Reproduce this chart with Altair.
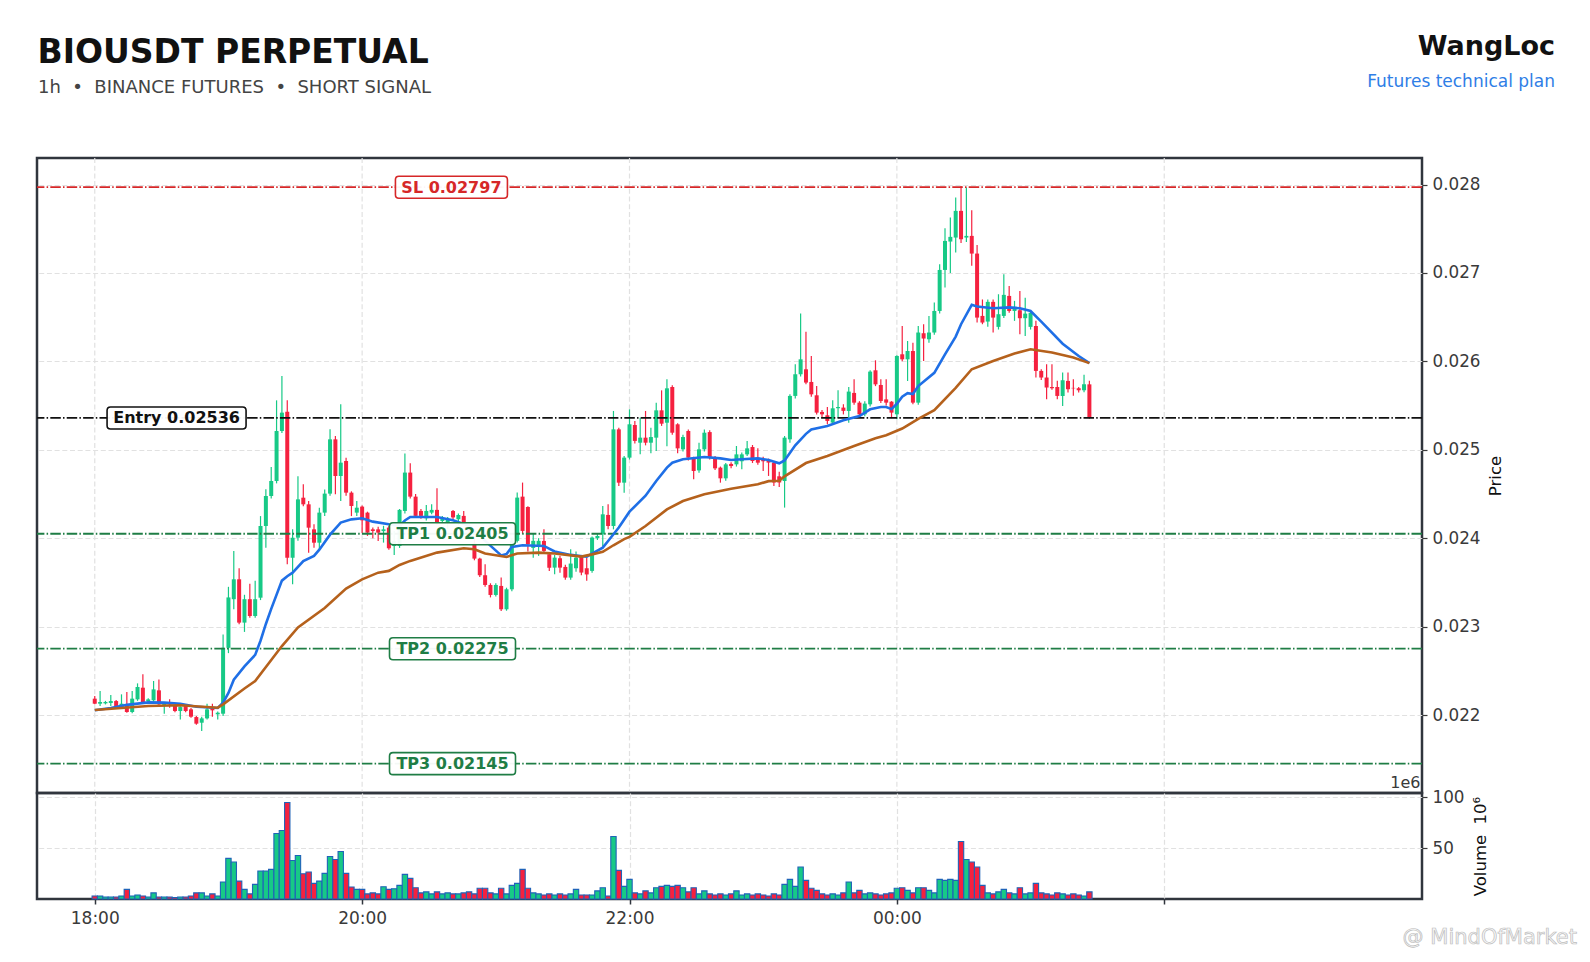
import altair as alt
import pandas as pd

# ---------------- data (prices in 1e-5 USDT: 2218.5 -> 0.022185) ----------------
OPEN = [
    2218.5, 2212.8, 2213.2, 2213.6, 2215.8, 2209.8, 2211, 2203.4, 2217.7, 2230.9,
    2215.8, 2216.6, 2227.9, 2211.3, 2214, 2210.2, 2204.5, 2210.2, 2206.4, 2197.7,
    2191.3, 2196.2, 2208.3, 2200.8, 2201.5, 2276, 2331, 2353.5, 2304.5, 2331,
    2312, 2332.7, 2413.8, 2447.7, 2464.7, 2521.2, 2543, 2378, 2400.6, 2445.8,
    2438.3, 2410, 2394.9, 2428.9, 2450.4, 2511.8, 2470.3, 2487.3, 2451.5, 2428.9,
    2435.7, 2428.9, 2410, 2410, 2408, 2412, 2391.2, 2391.2, 2430.8, 2474.2,
    2447, 2430.8, 2422.5, 2428.9, 2432, 2419.5, 2417.6, 2430.8, 2421.4, 2425.2,
    2413.9, 2394.2, 2376.9, 2358.1, 2347.1, 2335.8, 2346, 2319.6, 2342.2, 2397,
    2447, 2435.3, 2389, 2391, 2396.9, 2381.8, 2366.7, 2377.3, 2367.5, 2355.4,
    2366, 2378.8, 2366, 2363, 2400, 2404.4, 2426.3, 2413.8, 2523.1, 2462.8,
    2491.1, 2528, 2508, 2513.7, 2508, 2513.7, 2544.6, 2530.6, 2571, 2528.8,
    2500.5, 2521.2, 2491.1, 2476.7, 2500.5, 2520, 2491.1, 2479.8, 2467.7, 2484,
    2483.5, 2487, 2494.8, 2503.1, 2491, 2489, 2487.3, 2485.5, 2470, 2464.7,
    2511.8, 2560.9, 2585.4, 2591, 2576.7, 2561.6, 2542.8, 2539, 2530.7, 2547,
    2547.7, 2543.9, 2564.3, 2553.3, 2540.1, 2551.4, 2589.9, 2573.3, 2557, 2554.4,
    2540.1, 2608, 2602.3, 2611.7, 2553.3, 2631.8, 2625, 2632.6, 2657, 2703.4,
    2735.5, 2740, 2770.2, 2740, 2741.9, 2721.9, 2651.4, 2645, 2667.3, 2639,
    2651.4, 2674, 2657, 2657.8, 2648.8, 2639, 2640, 2589.2, 2581.7, 2571,
    2571, 2560.9, 2577.9, 2570, 2569.6, 2567.3, 2574,
]
HIGH = [
    2221.5, 2227.1, 2216, 2222.6, 2217, 2223.4, 2226, 2227.1, 2235.8, 2246,
    2219, 2238.5, 2240.3, 2214, 2217.7, 2212, 2210, 2212, 2208, 2199,
    2198, 2212.8, 2212.8, 2204, 2291, 2345, 2385.5, 2366, 2336, 2348.6,
    2352, 2425, 2455.3, 2480.5, 2555.9, 2583.4, 2556, 2410, 2470, 2460.9,
    2442, 2415.7, 2434.5, 2455, 2523.1, 2515.6, 2551.4, 2491.1, 2453, 2442,
    2437, 2430, 2412, 2413, 2414, 2414, 2408.2, 2433, 2495.7, 2484.7,
    2450, 2433, 2437.6, 2438.4, 2456.5, 2425, 2424, 2432, 2428, 2430.8,
    2416, 2400.7, 2378, 2370.5, 2349, 2349, 2355.4, 2344, 2400, 2451.6,
    2462.9, 2436, 2406, 2400, 2410, 2384, 2381, 2380, 2370, 2387.5,
    2385, 2381, 2378, 2402, 2405, 2436.4, 2438.3, 2543.9, 2525, 2493,
    2545.7, 2532.5, 2536.3, 2543.9, 2525, 2553.3, 2567.2, 2579.7, 2573, 2530,
    2517, 2523, 2492, 2508, 2523, 2522, 2493, 2481, 2485, 2486,
    2504.3, 2497, 2510, 2505.4, 2501.6, 2492, 2490, 2487, 2475, 2515.6,
    2562.7, 2596.7, 2654, 2633.6, 2606, 2572, 2545, 2548.4, 2556, 2567.3,
    2551.5, 2571, 2579.7, 2555, 2555, 2590, 2601.2, 2579.7, 2579.7, 2555,
    2607, 2640, 2623, 2621, 2640, 2642, 2651.4, 2666.5, 2709.8, 2750.6,
    2762.6, 2785.2, 2798.4, 2796.6, 2770.9, 2731.7, 2670, 2670, 2670, 2675.9,
    2698.5, 2685.3, 2668.4, 2679.7, 2672, 2657, 2645.8, 2591, 2596.7, 2596.7,
    2578, 2587.3, 2587.3, 2579.8, 2571, 2584.8, 2578,
]
LOW = [
    2212.1, 2210.2, 2212, 2210.2, 2208, 2208, 2202.6, 2202, 2216, 2213,
    2215, 2215, 2211, 2201.5, 2208.3, 2203, 2195, 2203, 2197, 2189,
    2182, 2195, 2198, 2195, 2199, 2270, 2319.5, 2302.6, 2294, 2310,
    2310, 2330, 2389.3, 2445, 2462, 2519, 2370.4, 2347.8, 2397, 2436,
    2383.6, 2389.3, 2387.4, 2425, 2448, 2449.6, 2442.1, 2448, 2425, 2425,
    2406, 2402.6, 2400, 2396.8, 2395, 2387, 2381.1, 2389, 2428, 2445,
    2423, 2422, 2420, 2427, 2415, 2417, 2410, 2421, 2415, 2415,
    2399, 2375, 2356, 2345, 2333, 2334, 2317.7, 2318, 2340, 2395,
    2405, 2385, 2378, 2380, 2383, 2363, 2359.2, 2361, 2353, 2353,
    2362, 2358, 2352, 2361, 2398, 2391, 2410, 2410, 2459, 2451.5,
    2489, 2507, 2494.8, 2505, 2496, 2498.6, 2527, 2504, 2517, 2496,
    2498, 2488, 2466.6, 2474, 2498, 2489, 2477, 2462.8, 2465, 2479,
    2481, 2478, 2493, 2485, 2483, 2476, 2470.4, 2459, 2458, 2434.6,
    2508, 2558, 2583, 2574, 2560, 2540, 2536, 2528.8, 2528, 2536,
    2540, 2530.7, 2551, 2537, 2538, 2549, 2572, 2553, 2550, 2536,
    2534.5, 2600, 2577.8, 2551.4, 2551, 2600.5, 2621, 2630, 2654, 2683.5,
    2700, 2723, 2734, 2735, 2708, 2643.9, 2642, 2639, 2632.6, 2636,
    2649, 2655, 2645.8, 2630.7, 2628.8, 2636, 2581.7, 2579, 2557, 2568,
    2557, 2549.6, 2564.7, 2561, 2564.7, 2565, 2535,
]
CLOSE = [
    2212.8, 2214.7, 2214.7, 2215.8, 2209.4, 2212.8, 2203.4, 2218.5, 2231.7, 2214.7,
    2217.7, 2229, 2212.1, 2212.8, 2212, 2204.5, 2209, 2204.5, 2198.1, 2190.2,
    2196.2, 2206.4, 2205.3, 2202.6, 2276, 2333, 2353.5, 2304.5, 2331, 2312,
    2331, 2413.8, 2447.7, 2464.7, 2521.2, 2542, 2378, 2400.6, 2443.9, 2438.3,
    2411.9, 2394.9, 2428.9, 2450.4, 2511.8, 2470.3, 2485.4, 2451.5, 2436.4, 2434.5,
    2420.2, 2406.3, 2408.1, 2406.3, 2410, 2388.6, 2396.9, 2432, 2474.2, 2447,
    2425.2, 2425.2, 2430.8, 2432, 2417.6, 2422.5, 2421.4, 2423.5, 2426.2, 2417.6,
    2408.2, 2376.9, 2358.1, 2347.1, 2335.8, 2347.1, 2319.6, 2342.2, 2397, 2445.9,
    2408.2, 2393, 2397, 2397, 2385.6, 2366.7, 2378, 2366.7, 2355.4, 2371.3,
    2378, 2361.1, 2359, 2400.7, 2402.5, 2427, 2413.8, 2523.1, 2462.8, 2491.1,
    2528.8, 2510, 2513.7, 2508, 2514.4, 2544.6, 2529.5, 2569.5, 2519.3, 2501.6,
    2514.4, 2491.1, 2476, 2500.5, 2519.3, 2491.1, 2479, 2467.7, 2483.5, 2481.6,
    2494.8, 2494.8, 2501.6, 2487.3, 2485.4, 2487, 2485.5, 2463, 2463, 2513.7,
    2560.9, 2585.4, 2602.3, 2576, 2562.7, 2542, 2540.1, 2532.6, 2546.9, 2548.4,
    2544, 2565.8, 2553.3, 2540.1, 2552.2, 2588.4, 2574, 2555.2, 2553.3, 2542,
    2606.1, 2602.3, 2611.7, 2553.3, 2632.6, 2625.8, 2632.6, 2657, 2703.4, 2736.2,
    2740.8, 2770.2, 2738.1, 2741.9, 2721.9, 2649.5, 2643.9, 2667.3, 2649.5, 2653.3,
    2675.2, 2657, 2661.6, 2648.8, 2654, 2655, 2589.2, 2581.7, 2570.4, 2569.6,
    2560.9, 2578.6, 2568.5, 2569.5, 2567.3, 2574.1, 2536,
]
VOLUME = [  # millions
    3, 3, 2, 2, 2, 3, 9.5, 3, 4, 3,
    2, 6, 2, 2, 2, 1.5, 2, 2, 3, 6,
    6, 3, 5, 3, 16.7, 39.9, 36.3, 17.6, 9.5, 5,
    14.4, 27.5, 27.5, 29.1, 64.4, 67.3, 94.8, 37.9, 42.8, 24.8,
    26.5, 15.4, 17.6, 25.2, 41.8, 38.9, 46.7, 25.2, 11.8, 9.5,
    9.5, 5, 6, 5, 12.1, 9.5, 10.1, 13.4, 24.2, 20.3,
    11.1, 6, 7, 5, 7, 5, 6, 5, 5, 6,
    7, 5, 10.5, 10.5, 6, 5, 10.5, 5, 13.4, 15.4,
    29.1, 10.5, 6, 5, 4, 5, 4, 5, 4, 5,
    9.5, 4, 4, 4, 8, 11.1, 3, 61.4, 28.1, 12.4,
    19.3, 6, 5, 8, 6, 11.1, 12.4, 13.4, 12.4, 13.4,
    11.1, 7, 11.1, 5, 8, 5, 4, 5, 4, 5,
    8, 4, 5, 4, 5, 4, 3, 5, 4, 14.4,
    19.3, 12.4, 31.4, 18.3, 10.5, 8.5, 5, 4, 5, 4,
    6, 16.7, 6, 8.5, 5, 6, 5, 4, 5, 6,
    10.5, 11.1, 8.5, 6, 11.1, 11.1, 8.5, 6, 19.3, 18.3,
    19.3, 18.3, 56.5, 38.9, 36.3, 31.4, 13.4, 6, 5, 7,
    9.5, 6, 5, 11.1, 5, 6, 15.4, 6, 5, 4,
    6, 5, 4, 5, 4, 3, 7,
]

EMA_FAST_I = [0, 3, 6, 10, 13, 16, 19, 23, 24, 25, 26, 28, 30, 31, 32, 33, 35, 36, 37, 39,
              41, 42, 44, 46, 48, 50, 52, 55, 57, 58, 59, 64, 67, 70, 73, 76, 77, 78, 80, 84,
              86, 89, 92, 93, 95, 96, 98, 100, 103, 105, 107, 108, 110, 114, 117, 119, 121, 124, 126, 128,
              129, 131, 133, 134, 137, 140, 143, 145, 147, 148, 149, 150, 151, 152, 153, 154, 157, 159, 161, 162,
              164, 165, 168, 171, 173, 175, 177, 181, 184, 186]
EMA_FAST_V = [2205.3, 2208, 2211.5, 2214.3, 2214, 2212.8, 2209.4, 2208, 2214, 2225, 2240, 2255, 2268, 2284, 2303, 2320, 2352, 2357, 2361, 2374,
              2380, 2387, 2404, 2417.6, 2421.3, 2422.5, 2418.7, 2415.7, 2414, 2420, 2424, 2424, 2420.3, 2413.9, 2397, 2380.5, 2382, 2390, 2392, 2391.2,
              2385, 2381.1, 2379, 2382.5, 2389.3, 2396.8, 2412, 2430, 2448, 2464.7, 2479.8, 2485.4, 2489.2, 2491.8, 2490.3, 2488.4, 2489.2, 2490.3, 2488.5, 2484.7,
              2488, 2505, 2518, 2523, 2526.9, 2533.3, 2538.2, 2545.8, 2548.4, 2548.4, 2546, 2552, 2560, 2564, 2563, 2572, 2587, 2608, 2628, 2642,
              2664, 2662, 2660, 2661, 2660, 2657, 2645, 2620, 2606, 2598]
EMA_SLOW_I = [0, 10, 16, 23, 24, 28, 30, 35, 38, 43, 47, 50, 53, 55, 57, 59, 64, 69, 71, 73,
              77, 79, 83, 86, 91, 93, 95, 97, 99, 100, 103, 107, 110, 114, 119, 124, 126, 128, 129, 133,
              137, 142, 146, 148, 151, 152, 154, 157, 161, 164, 168, 172, 175, 179, 183, 186]
EMA_SLOW_V = [2205.7, 2210.2, 2211, 2208.3, 2212, 2230, 2238.5, 2278, 2299, 2321, 2343, 2353.5, 2361, 2363, 2369.7, 2374.3, 2383.7, 2388.6, 2387.5, 2382.6,
              2378.8, 2382.6, 2383.7, 2382.6, 2379.2, 2381.7, 2384.5, 2392, 2399, 2401.5, 2413.8, 2432.6, 2442, 2449.6, 2456, 2461, 2464.5, 2465, 2470, 2485,
              2493, 2504.3, 2513, 2516.4, 2524, 2527.7, 2535, 2544.7, 2570, 2591.1, 2600.5, 2608.8, 2613.7, 2610, 2604.3, 2598]

LEVEL_NAMES = ["SL", "Entry", "TP1", "TP2", "TP3"]
LEVEL_PRICES = [0.02797, 0.02536, 0.02405, 0.02275, 0.02145]
LEVEL_LABELS = ["SL 0.02797", "Entry 0.02536", "TP1 0.02405", "TP2 0.02275", "TP3 0.02145"]

TIME_TICKS = [0, 50, 100, 150, 200]
TIME_LABELS = ["18:00", "20:00", "22:00", "00:00", ""]
PRICE_TICKS = [0.022, 0.023, 0.024, 0.025, 0.026, 0.027, 0.028]
VOL_TICKS = [50, 100]

assert all(len(a) == len(OPEN) for a in (HIGH, LOW, CLOSE, VOLUME))
assert len(EMA_FAST_I) == len(EMA_FAST_V) and len(EMA_SLOW_I) == len(EMA_SLOW_V)

UNIT = 1e-5
candles = pd.DataFrame({
    "i": list(range(len(OPEN))),
    "open": [v * UNIT for v in OPEN],
    "high": [v * UNIT for v in HIGH],
    "low": [v * UNIT for v in LOW],
    "close": [v * UNIT for v in CLOSE],
    "vol": VOLUME,
})
fast = pd.DataFrame({"i": EMA_FAST_I, "v": [v * UNIT for v in EMA_FAST_V]})
slow = pd.DataFrame({"i": EMA_SLOW_I, "v": [v * UNIT for v in EMA_SLOW_V]})
levels = pd.DataFrame({"name": LEVEL_NAMES, "price": LEVEL_PRICES, "label": LEVEL_LABELS})
ticks_df = pd.DataFrame({"t": TIME_TICKS})
one = pd.DataFrame({"k": [0]})

# ---------------- styling / layout ----------------
FONT = "DejaVu Sans"
NB = "\u00a0"
W, H_HEAD, H_PRICE, H_VOL = 1385, 149, 635, 106
X_DOMAIN = [-10.8, 248.2]
P_DOMAIN = [0.021118, 0.0283]
V_DOMAIN = [0, 104.2]
GREEN, RED = "#17c986", "#f5213f"
BLUE, BROWN = "#1f6fe6", "#b5611c"
GRID = "#e1e1e1"
GRID_DASH = [5, 2.7]
FRAME = "#30353d"
LEVEL_COLORS = ["#d62728", "#111111", "#1f7d45", "#1f7d45", "#1f7d45"]
LABEL_X = [66.7, 15.3, 66.9, 66.9, 66.9]
BOX_W = [112, 139, 126, 126, 126]
BOX_H = 22

up = alt.datum.close >= alt.datum.open
col = alt.condition(up, alt.value(GREEN), alt.value(RED))
xs = alt.Scale(domain=X_DOMAIN, nice=False, zero=False, padding=0)
ps = alt.Scale(domain=P_DOMAIN, nice=False, zero=False, padding=0)
vs = alt.Scale(domain=V_DOMAIN, nice=False, zero=True, padding=0)

label_expr = " : ".join(
    f"datum.value == {t} ? '{s}'" for t, s in zip(TIME_TICKS, TIME_LABELS)
) + " : ''"

price_axis = alt.Axis(
    orient="right", values=PRICE_TICKS, format=".3f", labelFontSize=16.8,
    labelColor="#3a3a3a", labelPadding=5, tickSize=5, tickColor="#3a3a3a",
    tickWidth=1.2, domain=False, grid=True, gridColor=GRID, gridDash=GRID_DASH,
    gridWidth=1.2, title="Price", titleFontSize=16.5, titleFontWeight="normal",
    titleColor="#111111", titleAngle=270, titleX=73, titleY=H_PRICE / 2,
    titleAlign="center", titleBaseline="middle",
)

vgrid = alt.Chart(ticks_df).mark_rule(color=GRID, strokeDash=GRID_DASH, strokeWidth=1.2).encode(
    x=alt.X("t:Q", scale=xs, axis=None)
)
wicks = alt.Chart(candles).mark_rule(strokeWidth=1.2).encode(
    x=alt.X("i:Q", scale=xs, axis=None),
    y=alt.Y("low:Q", scale=ps, axis=price_axis),
    y2="high:Q",
    color=col,
)
bodies = alt.Chart(candles).mark_bar(size=4).encode(
    x=alt.X("i:Q", scale=xs, axis=None),
    y=alt.Y("open:Q", scale=ps),
    y2="close:Q",
    color=col,
)
level_rules = alt.Chart(levels).mark_rule(strokeWidth=1.8, strokeDash=[10.5, 2.2, 1.5, 2.2]).encode(
    y=alt.Y("price:Q", scale=ps),
    color=alt.Color("name:N", scale=alt.Scale(domain=LEVEL_NAMES, range=LEVEL_COLORS), legend=None),
)
fast_line = alt.Chart(fast).mark_line(color=BLUE, strokeWidth=2.6).encode(
    x=alt.X("i:Q", scale=xs, axis=None), y=alt.Y("v:Q", scale=ps)
)
slow_line = alt.Chart(slow).mark_line(color=BROWN, strokeWidth=2.6).encode(
    x=alt.X("i:Q", scale=xs, axis=None), y=alt.Y("v:Q", scale=ps)
)


def rrect(w, h, r):
    a = h / w
    rr = 2 * r / w
    return (f"M{-1 + rr},{-a} L{1 - rr},{-a} Q1,{-a} 1,{-a + rr} L1,{a - rr} "
            f"Q1,{a} {1 - rr},{a} L{-1 + rr},{a} Q-1,{a} -1,{a - rr} "
            f"L-1,{-a + rr} Q-1,{-a} {-1 + rr},{-a} Z")


label_layers = []
for name, price, text, lx, bw, c in zip(LEVEL_NAMES, LEVEL_PRICES, LEVEL_LABELS, LABEL_X, BOX_W, LEVEL_COLORS):
    d = pd.DataFrame({"lx": [lx], "price": [price], "label": [text]})
    box = alt.Chart(d).mark_point(
        shape=rrect(bw, BOX_H, 3.5), size=bw * bw, filled=True, fill="white",
        fillOpacity=0.95, stroke=c, strokeWidth=1.6, opacity=1, strokeOpacity=1,
    ).encode(x=alt.X("lx:Q", scale=xs, axis=None), y=alt.Y("price:Q", scale=ps))
    txt = alt.Chart(d).mark_text(
        font=FONT, fontSize=16, fontWeight="bold", color=c, align="center", baseline="middle", dy=0.5,
    ).encode(x=alt.X("lx:Q", scale=xs, axis=None), y=alt.Y("price:Q", scale=ps), text="label:N")
    label_layers += [box, txt]

offset_txt = alt.Chart(one).mark_text(
    text="1e6", font=FONT, fontSize=16, color="#3a3a3a", align="right", baseline="alphabetic"
).encode(x=alt.value(1383.5), y=alt.value(629.7))

price = alt.layer(
    vgrid, wicks, bodies, level_rules, fast_line, slow_line, *label_layers, offset_txt
).properties(width=W, height=H_PRICE, view=alt.ViewBackground(stroke=FRAME, strokeWidth=2.5))

vol_bars = alt.Chart(candles).mark_bar(size=5.35, stroke="#1f63b8", strokeWidth=1.1).encode(
    x=alt.X("i:Q", scale=xs, axis=alt.Axis(
        values=TIME_TICKS, labelExpr=label_expr, labelFontSize=17, labelColor="#3a3a3a",
        labelPadding=6, tickSize=5, tickColor="#30353d", tickWidth=1.5, domain=False,
        grid=True, gridColor=GRID, gridDash=GRID_DASH, gridWidth=1.2, title=None,
    )),
    y=alt.Y("vol:Q", scale=vs, axis=alt.Axis(
        orient="right", values=VOL_TICKS, format="d", labelFontSize=16.8, labelColor="#3a3a3a",
        labelPadding=5, tickSize=5, tickColor="#3a3a3a", tickWidth=1.2, domain=False,
        grid=True, gridColor=GRID, gridDash=GRID_DASH, gridWidth=1.2,
        title="Volume" + NB + NB + "10\u2076", titleFontSize=16.5, titleFontWeight="normal",
        titleColor="#111111", titleAngle=270, titleX=58.5, titleY=H_VOL / 2,
        titleAlign="center", titleBaseline="middle",
    )),
    color=col,
)
watermark = alt.Chart(one).mark_text(
    text="@ MindOfMarket", font=FONT, fontSize=21, fill="#f7f7f7", stroke="#bdbdbd",
    strokeWidth=0.7, align="right", baseline="alphabetic",
).encode(x=alt.value(1540), y=alt.value(151))
volume = alt.layer(vol_bars, watermark).properties(
    width=W, height=H_VOL, view=alt.ViewBackground(stroke=FRAME, strokeWidth=2.5)
)


def htxt(text, x, y, size, weight, color, align):
    return alt.Chart(one).mark_text(
        text=text, font=FONT, fontSize=size, fontWeight=weight, color=color,
        align=align, baseline="alphabetic",
    ).encode(x=alt.value(x), y=alt.value(y))


SUB = f"1h{NB}{NB}\u2022{NB}{NB}BINANCE FUTURES{NB}{NB}\u2022{NB}{NB}SHORT SIGNAL"
header = alt.layer(
    htxt("BIOUSDT PERPETUAL", 0.5, 54.3, 33, "bold", "#111111", "left"),
    htxt(SUB, 1, 83.7, 18, "normal", "#444444", "left"),
    htxt("WangLoc", 1518, 46.3, 27, "bold", "#111111", "right"),
    htxt("Futures technical plan", 1518, 78, 17, "normal", "#2f7ee6", "right"),
).properties(width=W, height=H_HEAD, view=alt.ViewBackground(stroke="transparent"))

chart = alt.vconcat(header, price, volume, spacing=0, bounds="flush").properties(
    padding={"left": 26, "top": 0, "right": 0, "bottom": 4},
    background="white",
).configure(font=FONT)

chart.save("out.html", embed_options={"renderer": "svg", "actions": False})
